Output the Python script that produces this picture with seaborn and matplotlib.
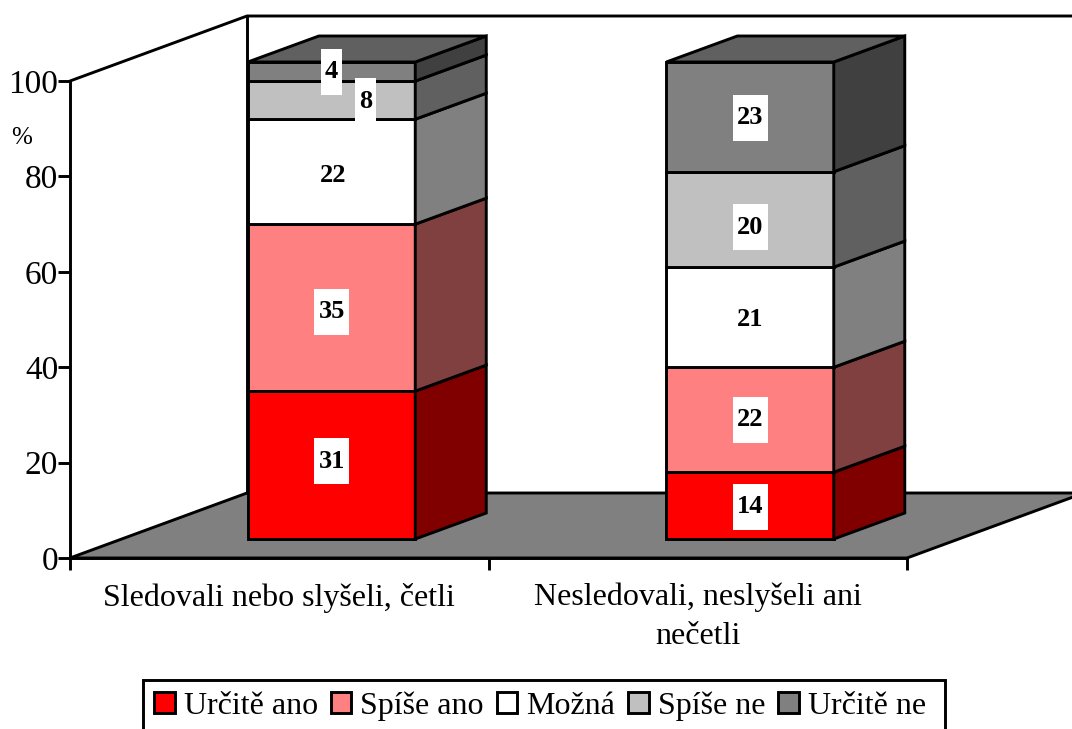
import matplotlib
matplotlib.use('Agg')
import matplotlib.pyplot as plt
from matplotlib.patches import Polygon, Rectangle
import seaborn as sns

groups = ['Sledovali nebo slyšeli, četli', 'Nesledovali, neslyšeli ani\nnečetli']
series = ['Určitě ano', 'Spíše ano', 'Možná', 'Spíše ne', 'Určitě ne']
sledovali = [31, 35, 22, 8, 4]
nesledovali = [14, 22, 21, 20, 23]
y_ticks = [0, 20, 40, 60, 80, 100]

front_colors = ['#ff0000', '#ff8080', '#ffffff', '#c0c0c0', '#808080']
side_colors = ['#800000', '#804040', '#808080', '#606060', '#404040']
top_color = '#606060'
floor_color = '#808080'

# label nudges in px (right, down), the original does not centre them exactly
nudges = [[(0, -4), (0, 4), (2, 4), (34, 1), (0, 0)],
          [(0, 1), (0, 0), (0, 2), (0, 8), (0, 1)]]

W, H = 1072, 729
# px per data unit on the two axes
UX = (907 - 70) / 2
UY = (558 - 81) / 100

bar_x = [0.125, 1.125]
bar_w = 0.4
lift = 19 / UY          # bars stand a bit behind the front edge of the floor
dx, dy = 71 / UX, 26 / UY
wall_dx, wall_dy = 177 / UX, 65 / UY
LW = 2.1

sns.set_style('ticks')
plt.rcParams['font.family'] = ['Liberation Serif', 'DejaVu Serif']

fig = plt.figure(figsize=(W / 100, H / 100), dpi=100)
ax = fig.add_axes([70 / W, 1 - 558 / H, 837 / W, 477 / H])

# floor and back walls
x0, x1 = -0.5, 1.5
ax.add_patch(Polygon([(x0, 0), (x1, 0), (x1 + wall_dx, wall_dy), (x0 + wall_dx, wall_dy)],
                     fc=floor_color, ec='black', lw=LW, clip_on=False, zorder=1))
ax.plot([x0, x0 + wall_dx, x1 + wall_dx], [100, 100 + wall_dy, 100 + wall_dy],
        color='black', lw=LW, clip_on=False, zorder=1)
ax.plot([x0 + wall_dx, x0 + wall_dx], [wall_dy, 100 + wall_dy],
        color='black', lw=LW, clip_on=False, zorder=1)

# stacked front faces
bottoms = [lift, lift]
for i, name in enumerate(series):
    vals = [sledovali[i], nesledovali[i]]
    sns.barplot(x=bar_x, y=vals, bottom=bottoms, native_scale=True, orient='x', width=bar_w,
                color=front_colors[i], saturation=1, edgecolor='black', linewidth=LW,
                clip_on=False, zorder=3, ax=ax)
    for x, b, v in zip(bar_x, bottoms, vals):
        right = x + bar_w / 2
        ax.add_patch(Polygon([(right, b), (right + dx, b + dy), (right + dx, b + v + dy), (right, b + v)],
                             fc=side_colors[i], ec='black', lw=LW, clip_on=False, zorder=3))
    bottoms = [b + v for b, v in zip(bottoms, vals)]

for x, top in zip(bar_x, bottoms):
    left, right = x - bar_w / 2, x + bar_w / 2
    ax.add_patch(Polygon([(left, top), (right, top), (right + dx, top + dy), (left + dx, top + dy)],
                         fc=top_color, ec='black', lw=LW, clip_on=False, zorder=3))

# value labels on white boxes
for x, vals, shifts in zip(bar_x, [sledovali, nesledovali], nudges):
    b = lift
    for i, v in enumerate(vals):
        lx = x + shifts[i][0] / UX
        ly = b + v / 2 - shifts[i][1] / UY
        bw = (21 if v < 10 else 35) / UX
        bh = 46 / UY
        ax.add_patch(Rectangle((lx - bw / 2, ly - bh / 2), bw, bh, fc='white', ec='none',
                               clip_on=False, zorder=4))
        ax.text(lx, ly, str(v), ha='center', va='center', fontsize=19, fontweight='bold',
                color='black', zorder=5)
        b += v

ax.set_xlim(x0, x1)
ax.set_ylim(0, 100)
ax.set_xlabel('')
ax.set_ylabel('')
ax.set_yticks(y_ticks)
ax.set_xticks([-0.5, 0.5, 1.5])
ax.set_xticklabels([])
ax.set_xticks([0, 1], labels=groups, minor=True)
ax.tick_params(axis='both', which='major', length=8.5, width=LW, color='black')
ax.tick_params(axis='y', labelsize=24, pad=0, labelcolor='black')
ax.tick_params(axis='x', which='minor', length=0, labelsize=23, pad=18, labelcolor='black')
for lab in ax.get_xticklabels(minor=True):
    lab.set_linespacing(1.45)
for s in ['top', 'right']:
    ax.spines[s].set_visible(False)
for s in ['left', 'bottom']:
    ax.spines[s].set_linewidth(LW)
    ax.spines[s].set_color('black')
ax.patch.set_alpha(0)

ax.text(x0 - 48 / UX, 88, '%', ha='center', va='center', fontsize=18, color='black')

# legend box runs off the bottom of the picture, so it is drawn apart from the entries
fig.add_artist(Rectangle((143 / W, -6 / H), 802 / W, 55 / H, transform=fig.transFigure,
                         fc='white', ec='black', lw=LW))
handles = [Rectangle((0, 0), 1, 1, fc=c, ec='black', lw=LW) for c in front_colors]
leg = fig.legend(handles, series, ncol=5, loc='center left', bbox_to_anchor=(143 / W, 1 - 706 / H),
                 fontsize=23, frameon=False, handlelength=0.64, handleheight=0.64,
                 handletextpad=0.28, columnspacing=0.41, borderpad=0.35, borderaxespad=0,
                 labelcolor='black')

fig.savefig('out.png', dpi=100)
